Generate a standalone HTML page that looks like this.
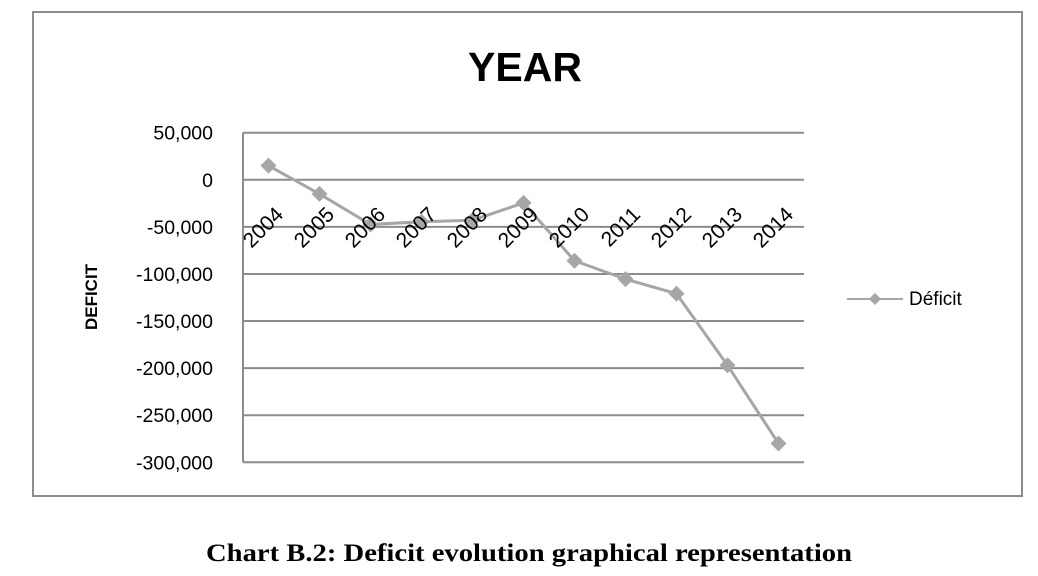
<!DOCTYPE html>
<html><head><meta charset="utf-8"><style>
html,body{margin:0;padding:0;background:#fff;}
svg{display:block;}
</style></head><body>
<svg width="1038" height="576" viewBox="0 0 1038 576" xmlns="http://www.w3.org/2000/svg">
<rect x="33" y="12" width="989" height="484" fill="#fff" stroke="#8c8c8c" stroke-width="2"/>
<text x="525" y="81" text-anchor="middle" font-family="Liberation Sans, sans-serif" font-weight="bold" font-size="41" fill="#000">YEAR</text>
<text transform="translate(97,297) rotate(-90)" text-anchor="middle" font-family="Liberation Sans, sans-serif" font-weight="bold" font-size="17" fill="#000">DEFICIT</text>
<g id="grid"></g>
<g id="ylabels"></g>
<g id="series"></g>
<g id="xlabels"></g>
<g>
<line x1="847" y1="299" x2="903" y2="299" stroke="#a6a6a6" stroke-width="2"/>
<path d="M875 293 L881 299 L875 305 L869 299 Z" fill="#a6a6a6"/>
<text x="909" y="305" font-family="Liberation Sans, sans-serif" font-size="19" fill="#000">Déficit</text>
</g>
<text x="529" y="561" text-anchor="middle" font-family="Liberation Serif, serif" font-weight="bold" font-size="25" textLength="646" lengthAdjust="spacingAndGlyphs" fill="#000">Chart B.2: Deficit evolution graphical representation</text>
</svg>
<script>
const categories = ["2004","2005","2006","2007","2008","2009","2010","2011","2012","2013","2014"];
const deficitValues = [15000,-15000,-47500,-44500,-43000,-24500,-86000,-105500,-121000,-197000,-280000];
const yTicks = [50000,0,-50000,-100000,-150000,-200000,-250000,-300000];
const yTickLabels = ["50,000","0","-50,000","-100,000","-150,000","-200,000","-250,000","-300,000"];

const NS="http://www.w3.org/2000/svg";
const plotL=243, plotR=804, yTop=132.7, yBot=462.3, yMax=50000, yMin=-300000;
function yScale(v){return yTop+(yMax-v)/(yMax-yMin)*(yBot-yTop);}
function xScale(i){const w=(plotR-plotL)/categories.length;return plotL+w*(i+0.5);}
function mk(tag,attrs,parent){const e=document.createElementNS(NS,tag);for(const k in attrs)e.setAttribute(k,attrs[k]);parent.appendChild(e);return e;}

const grid=document.getElementById('grid'), yl=document.getElementById('ylabels'), xl=document.getElementById('xlabels'), ser=document.getElementById('series');
yTicks.forEach((t,i)=>{
  const y=yScale(t);
  const g=mk('line',{x1:plotL,x2:plotR,y1:y,y2:y,stroke:'#8c8c8c','stroke-width':2},grid);
  
  
  const tx=mk('text',{x:213,y:y+7,'text-anchor':'end','font-family':'Liberation Sans, sans-serif','font-size':'19.5',fill:'#000'},yl);
  tx.textContent=yTickLabels[i];
  
  
});
const ax=mk('line',{x1:plotL,x2:plotL,y1:yTop,y2:yBot,stroke:'#8c8c8c','stroke-width':2},grid);



const pts=deficitValues.map((v,i)=>xScale(i)+','+yScale(v)).join(' ');
const pl=mk('polyline',{points:pts,fill:'none',stroke:'#a6a6a6','stroke-width':3,'stroke-linejoin':'round'},ser);


deficitValues.forEach((v,i)=>{
  const x=xScale(i), y=yScale(v);
  const m=mk('path',{d:`M${x} ${y-8} L${x+8} ${y} L${x} ${y+8} L${x-8} ${y} Z`,fill:'#a6a6a6'},ser);
  
  
});
categories.forEach((c,i)=>{
  const x=xScale(i)+16, y=yScale(0)+36;
  const t=mk('text',{x:x,y:y,transform:`rotate(-45 ${x} ${y})`,'text-anchor':'end','font-family':'Liberation Sans, sans-serif','font-size':'21',fill:'#000'},xl);
  t.textContent=c;
  
  
});
</script>
</body></html>
